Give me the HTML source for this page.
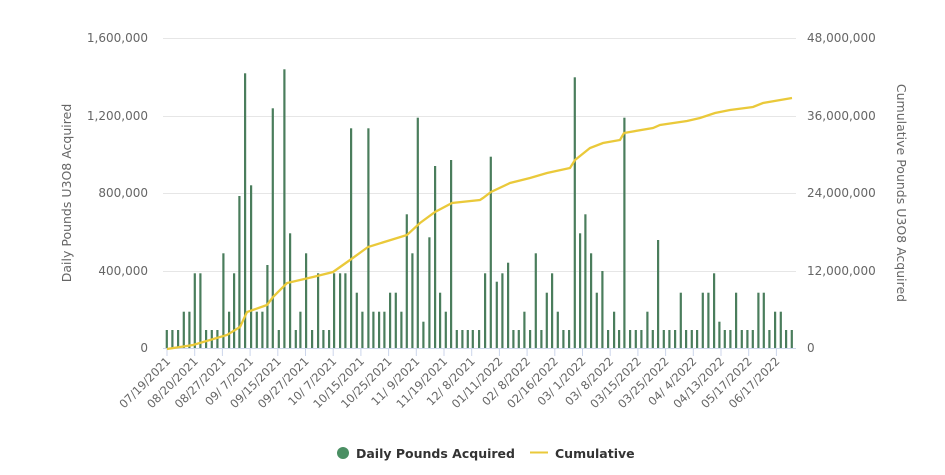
<!DOCTYPE html>
<html><head><meta charset="utf-8"><style>
html,body{margin:0;padding:0;background:#fff;}
svg{display:block;font-family:"DejaVu Sans","Liberation Sans",sans-serif;}
</style></head><body>
<svg id="c" width="945" height="475" xmlns="http://www.w3.org/2000/svg">
<g stroke="#e6e6e6" stroke-width="1">
<line x1="163" y1="38.5" x2="796" y2="38.5"/>
<line x1="163" y1="116.5" x2="796" y2="116.5"/>
<line x1="163" y1="193.5" x2="796" y2="193.5"/>
<line x1="163" y1="271.5" x2="796" y2="271.5"/>
<line x1="163" y1="348.5" x2="796" y2="348.5" stroke="#ccd6eb"/>
</g>
<g font-size="12" fill="#666" text-anchor="end">
<text x="148" y="42">1,600,000</text>
<text x="148" y="120">1,200,000</text>
<text x="148" y="197">800,000</text>
<text x="148" y="275">400,000</text>
<text x="148" y="352">0</text>
</g>
<g font-size="12" fill="#666" text-anchor="start">
<text x="807" y="42">48,000,000</text>
<text x="807" y="120">36,000,000</text>
<text x="807" y="197">24,000,000</text>
<text x="807" y="275">12,000,000</text>
<text x="807" y="352">0</text>
</g>
<text transform="translate(71,193) rotate(-90)" text-anchor="middle" font-size="12.5" fill="#666">Daily Pounds U3O8 Acquired</text>
<text transform="translate(897,193) rotate(90)" text-anchor="middle" font-size="12.5" fill="#666">Cumulative Pounds U3O8 Acquired</text>
<g id="bars" fill="#4a7d5c"></g>
<g id="ticks" stroke="#ccd6eb"></g>
<g id="labels" font-size="11.5" fill="#666" text-anchor="end"></g>
<polyline fill="none" stroke="#eac93a" stroke-width="2.3" points="167,349 193,345 227,335 240,327 247,312 267,305 273,297 287,283 313,277 333,272 350,260 368,247 407,235 420,223 435,212 452,203 480,200 483,198 491,192 510,183 530,178 547,173 570,168 575,160 590,148 603,143 620,140 624,133 653,128 660,125 687,121 700,118 715,113 730,110 753,107 763,103 792,98"/>
<circle cx="343" cy="453" r="6" fill="#4a8f63"/>
<text x="356" y="458" font-size="12.5" font-weight="bold" fill="#333">Daily Pounds Acquired</text>
<line x1="530" y1="452.5" x2="548" y2="452.5" stroke="#eac93a" stroke-width="2"/>
<text x="555" y="458" font-size="12.5" font-weight="bold" fill="#333">Cumulative</text>
</svg>
<script>
var ns="http://www.w3.org/2000/svg";
var z1=[[20,810],[37,810],[54,810],[71,755],[88,755],[104,640],[121,640],[138,810],[155,810],[172,810],[190,580],[207,755],[222,640],[238,408],[255,40],[273,376],[290,755],[307,755],[322,615],[338,145],[356,810],[373,28],[390,520],[407,810],[421,755],[438,580],[456,810],[474,640],[490,810],[507,810],[522,640],[540,640],[556,640],[573,205],[590,698],[607,755],[625,205],[640,755],[657,755],[673,755],[690,698],[707,698],[724,755],[740,463],[757,580],[773,173],[790,785],[808,532],[825,318],[840,698],[857,755],[873,300],[890,810],[907,810],[923,810]];
var z2=[[8,810],[27,810],[45,640],[62,290],[80,665],[97,640],[114,608],[130,810],[146,810],[163,755],[180,810],[197,580],[214,810],[230,698],[246,640],[263,755],[280,810],[297,810],[314,52],[330,520],[346,463],[363,580],[380,698],[397,633],[414,810],[432,755],[447,810],[463,173],[480,810],[497,810],[514,810],[532,755],[548,810],[564,540],[581,810],[598,810],[615,810],[632,698],[648,810],[665,810],[681,810],[698,698],[715,698],[732,640],[748,785],[764,810],[781,810],[798,698],[815,810],[832,810],[848,810],[865,698],[881,698],[898,810],[915,755],[932,755],[948,810],[965,810]];
var g=document.getElementById("bars");
function add(ox,arr){arr.forEach(function(b){var x=ox+b[0]/3,top=60+b[1]/3;var r=document.createElementNS(ns,"rect");r.setAttribute("x",(x-1).toFixed(1));r.setAttribute("y",top.toFixed(1));r.setAttribute("width","2.2");r.setAttribute("height",(348-top).toFixed(1));g.appendChild(r);});}
add(160,z1);add(470,z2);
var labs=["07/19/2021","08/20/2021","08/27/2021","09/ 7/2021","09/15/2021","09/27/2021","10/ 7/2021","10/15/2021","10/25/2021","11/ 9/2021","11/19/2021","12/ 8/2021","01/11/2022","02/ 8/2022","02/16/2022","03/ 1/2022","03/ 8/2022","03/15/2022","03/25/2022","04/ 4/2022","04/13/2022","05/17/2022","06/17/2022"];
var tg=document.getElementById("ticks"),lg=document.getElementById("labels");
labs.forEach(function(l,i){var x=167+i*27.7;var t=document.createElementNS(ns,"line");t.setAttribute("x1",x);t.setAttribute("x2",x);t.setAttribute("y1",349);t.setAttribute("y2",356);tg.appendChild(t);
var tx=document.createElementNS(ns,"text");tx.setAttribute("transform","translate("+(x+4)+",362) rotate(-45)");tx.style.whiteSpace="pre";tx.textContent=l;lg.appendChild(tx);});
</script>
</body></html>
